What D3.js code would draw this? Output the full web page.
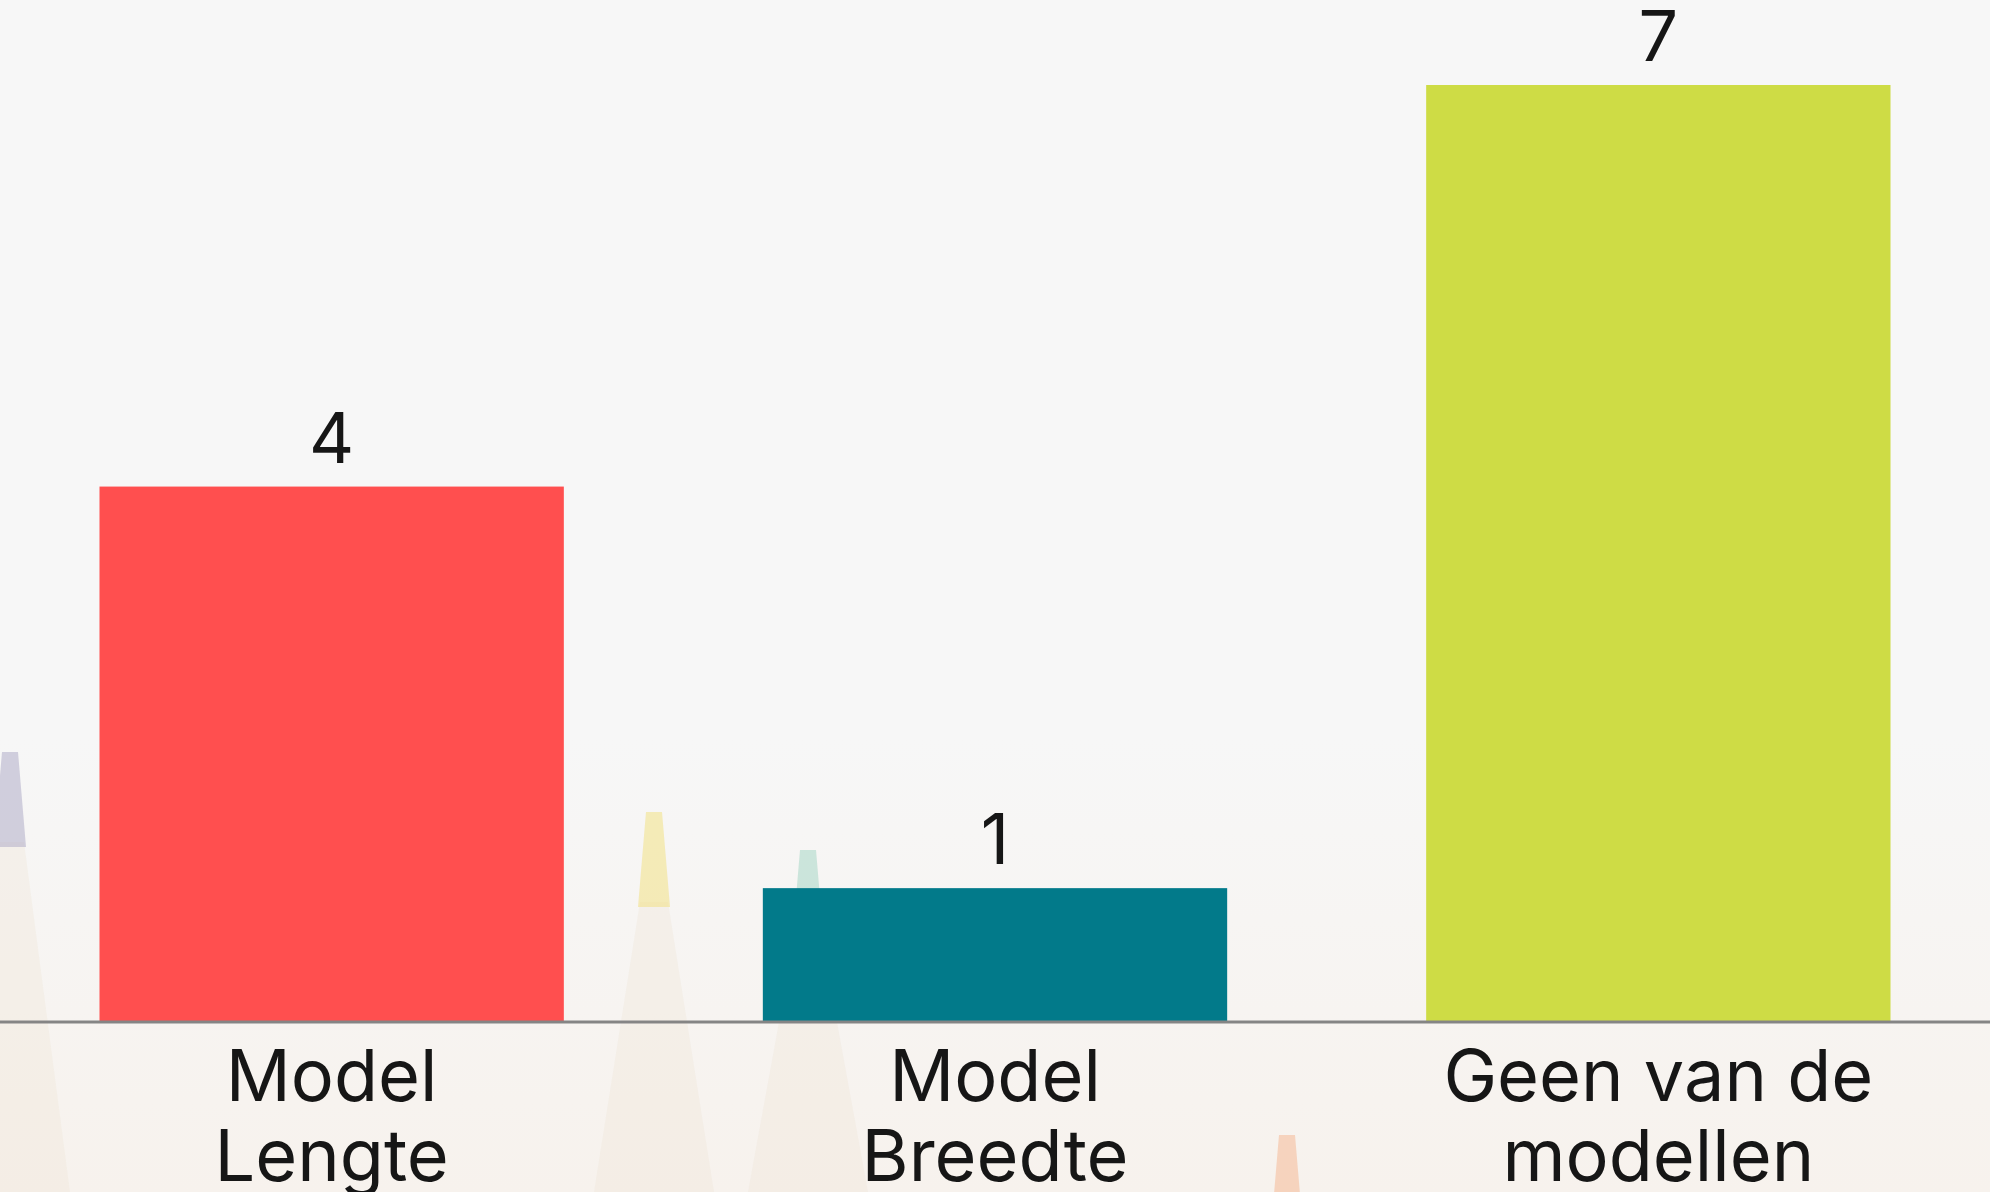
<!DOCTYPE html>
<html><head><meta charset="utf-8">
<script src="https://cdn.jsdelivr.net/npm/d3@7"></script>
<style>html,body{margin:0;padding:0;background:#f7f7f7;overflow:hidden}</style>
</head><body><svg id="c" width="1990" height="1192"></svg>
<script>
const categories = [["Model","Lengte"],["Model","Breedte"],["Geen van de","modellen"]];
const values = [4, 1, 7];
const colors = ["#FF4F4F", "#027A8A", "#CEDC45"];

const W = 1990, H = 1192;
const svg = d3.select("#c");
const baseY = 1022, topY = 85;

// background
const defs = svg.append("defs");
const g = defs.append("linearGradient").attr("id","bg").attr("x1",0).attr("y1",0).attr("x2",0).attr("y2",1);
g.append("stop").attr("offset","0").attr("stop-color","#f7f7f7");
g.append("stop").attr("offset","0.62").attr("stop-color","#f7f7f7");
g.append("stop").attr("offset","1").attr("stop-color","#f7f2ed");
svg.append("rect").attr("width",W).attr("height",H).attr("fill","url(#bg)");

// faint background pencils (decoration): coloured tip + wooden cone
const deco = svg.append("g");
const pencils = [
  {cx:10,tip:752,c:"#a9a6c4"},
  {cx:654,tip:812,c:"#f2e07a"},
  {cx:808,tip:850,c:"#9fd3c2"},
  {cx:1287,tip:1135,c:"#f6b48e"}
];
pencils.forEach(p=>{
  deco.append("path")
    .attr("d",`M${p.cx-14},${p.tip+90} L${p.cx-60},${H} L${p.cx+60},${H} L${p.cx+14},${p.tip+90} Z`)
    .attr("fill","#efe4d6").attr("opacity",0.35);
  deco.append("path")
    .attr("d",`M${p.cx-8},${p.tip} L${p.cx+8},${p.tip} L${p.cx+16},${p.tip+95} L${p.cx-16},${p.tip+95} Z`)
    .attr("fill",p.c).attr("opacity",0.5);
});

const x = d3.scaleBand().domain(d3.range(values.length)).range([0, W]).paddingInner(0.3).paddingOuter(0.15);
const y = d3.scaleLinear().domain([0, 7]).range([baseY, topY]);

svg.append("g").selectAll("rect").data(values).join("rect")
  .attr("x",(d,i)=>x(i)).attr("width",x.bandwidth())
  .attr("y",d=>y(d)).attr("height",d=>baseY-y(d))
  .attr("fill",(d,i)=>colors[i]);

svg.append("line").attr("x1",0).attr("x2",W).attr("y1",baseY).attr("y2",baseY)
  .attr("stroke","#858585").attr("stroke-width",3);

const font = "Inter, 'Noto Sans', sans-serif";
svg.append("g").selectAll("text").data(values).join("text")
  .attr("x",(d,i)=>x(i)+x.bandwidth()/2).attr("y",d=>y(d)-24)
  .attr("text-anchor","middle").attr("font-family",font).attr("font-size",70)
  .attr("fill","#161616").text(d=>d);

const lbl = svg.append("g").selectAll("text").data(categories).join("text")
  .attr("text-anchor","middle").attr("font-family",font).attr("font-size",72)
  .attr("fill","#161616");
lbl.selectAll("tspan").data((d,i)=>d.map(t=>({t,i}))).join("tspan")
  .attr("x",d=>x(d.i)+x.bandwidth()/2)
  .attr("y",(d,j)=>1101+j*80)
  .text(d=>d.t);
</script></body></html>
